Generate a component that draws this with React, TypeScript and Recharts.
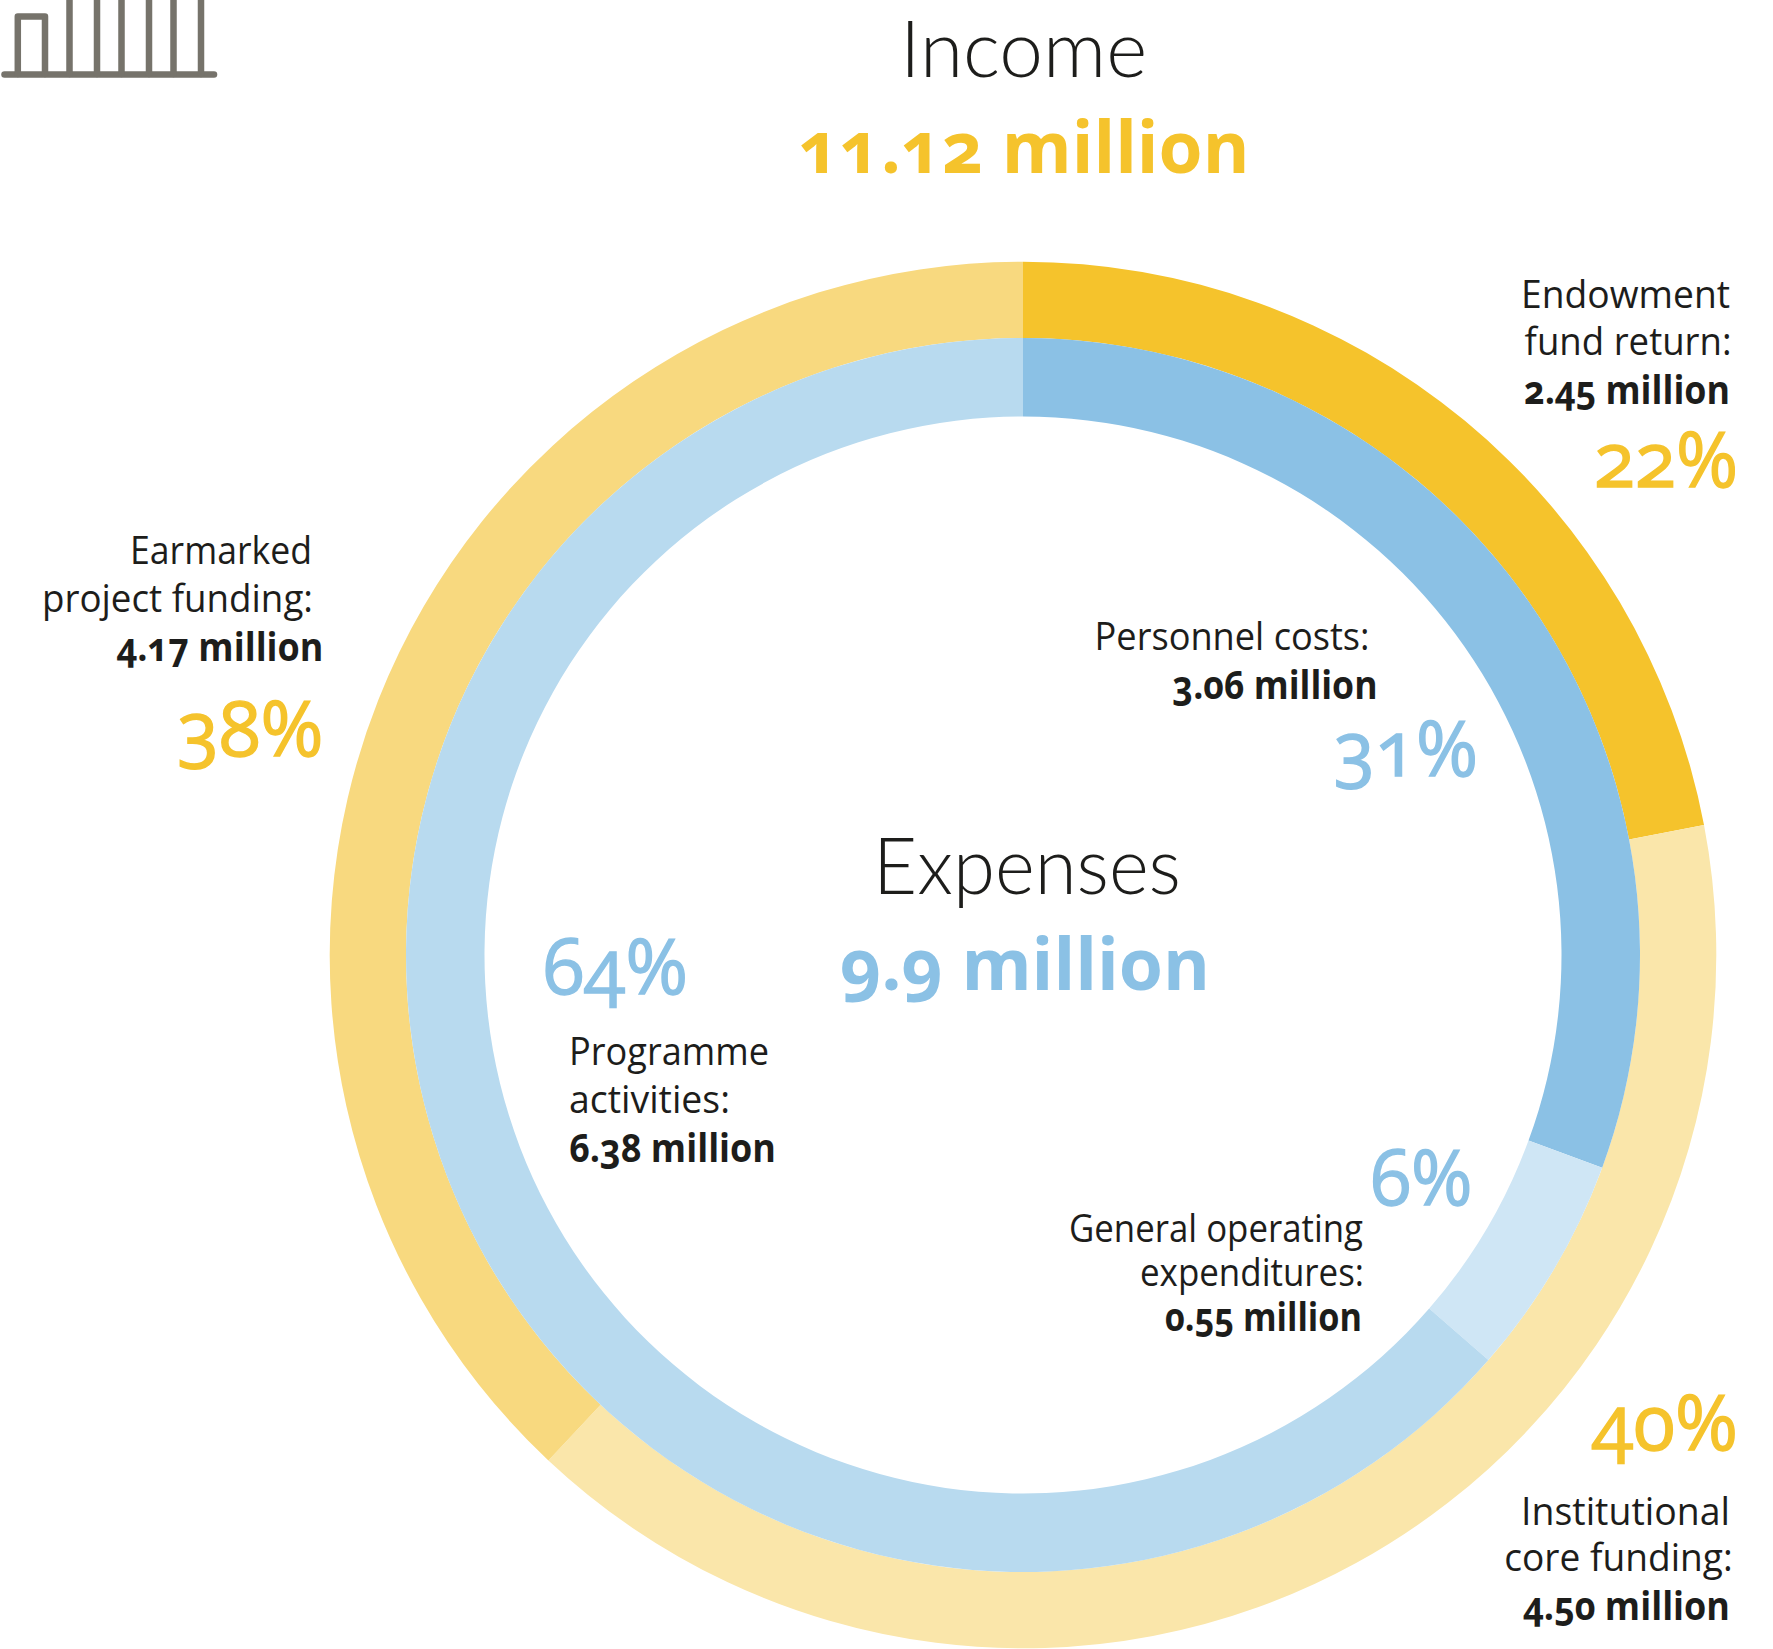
import { PieChart, Pie, Cell } from "recharts";

const incomeCategories = ["Endowment fund return", "Institutional core funding", "Earmarked project funding"];
const incomeShares = [22, 40, 38];
const expenseCategories = ["Personnel costs", "General operating expenditures", "Programme activities"];
// arc sizes (printed labels round to 31 / 6 / 64)
const expenseShares = [30.6, 5.8, 63.6];

const incomeColors = ["#f5c32c", "#fae6aa", "#f8d97f"];
const expenseColors = ["#8bc1e5", "#cfe6f5", "#b8daef"];

const incomeData = incomeCategories.map((name, i) => ({ name, value: incomeShares[i] }));
const expenseData = expenseCategories.map((name, i) => ({ name, value: expenseShares[i] }));

const FONT = "'Open Sans', sans-serif";
const DARK = "#1d1d1b";
const YELLOW = "#f5c32c";
const BLUE = "#8bc1e5";

type TxtProps = {
  x: number;
  y: number;
  w: number;
  size: number;
  weight: number;
  fill: string;
  anchor?: "start" | "middle" | "end";
  family?: string;
  thicken?: number;
  children: string;
};

function Txt({ x, y, w, size, weight, fill, anchor = "end", family = FONT, thicken = 0, children }: TxtProps) {
  return (
    <text
      x={x}
      y={y}
      textAnchor={anchor}
      textLength={w}
      lengthAdjust="spacingAndGlyphs"
      fontFamily={family}
      fontSize={size}
      fontWeight={weight}
      fill={fill}
      stroke={thicken ? fill : "none"}
      strokeWidth={thicken}
      style={{ fontVariantNumeric: "oldstyle-nums" }}
    >
      {children}
    </text>
  );
}

const Body = (p: { x: number; y: number; w: number; anchor?: "start" | "end"; children: string }) => (
  <Txt {...p} size={39} weight={400} fill={DARK} />
);
const Amount = (p: { x: number; y: number; w: number; anchor?: "start" | "end"; children: string }) => (
  <Txt {...p} size={39} weight={700} fill={DARK} />
);
const Pct = (p: { x: number; y: number; w: number; fill: string; anchor?: "start" | "end"; children: string }) => (
  <Txt {...p} size={76} weight={400} thicken={1.4} />
);
const Title = (p: { x: number; y: number; w: number; children: string }) => (
  <Txt {...p} size={78} weight={300} fill={DARK} anchor="middle" family="Lato, 'Open Sans', sans-serif" />
);

export default function App() {
  return (
    <div style={{ position: "absolute", left: 0, top: 0, width: 1773, height: 1649, background: "#fff" }}>
      <PieChart width={1773} height={1649} margin={{ top: 0, right: 0, bottom: 0, left: 0 }}>
        <Pie
          data={incomeData}
          dataKey="value"
          nameKey="name"
          cx={1023}
          cy={955}
          innerRadius={617}
          outerRadius={693.3}
          startAngle={90}
          endAngle={-270}
          stroke="none"
          isAnimationActive={false}
        >
          {incomeData.map((d, i) => (
            <Cell key={d.name} fill={incomeColors[i]} />
          ))}
        </Pie>
        <Pie
          data={expenseData}
          dataKey="value"
          nameKey="name"
          cx={1023}
          cy={955}
          innerRadius={538.5}
          outerRadius={617}
          startAngle={90}
          endAngle={-270}
          stroke="none"
          isAnimationActive={false}
        >
          {expenseData.map((d, i) => (
            <Cell key={d.name} fill={expenseColors[i]} />
          ))}
        </Pie>

        {/* building icon, cut off by the top edge */}
        <g stroke="#76736b" strokeWidth={6.5} fill="none" strokeLinecap="round" strokeLinejoin="round">
          <path d="M4.5 74.4H214" />
          <path d="M17.8 74V16.6H45V74" />
          <path d="M69.5 74V-5M97 74V-5M121.5 74V-5M149 74V-5M173.5 74V-5M201 74V-5" />
        </g>

        <Title x={1023.6} y={77} w={247}>Income</Title>
        <Txt x={1024} y={173} w={451} size={71} weight={700} fill={YELLOW} anchor="middle">11.12 million</Txt>

        <Body x={1730} y={308} w={209}>Endowment</Body>
        <Body x={1731.6} y={355} w={207}>fund return:</Body>
        <Amount x={1730} y={404} w={206}>2.45 million</Amount>
        <Pct x={1738} y={487} w={144} fill={YELLOW}>22%</Pct>

        <Body x={312} y={564} w={182}>Earmarked</Body>
        <Body x={313} y={612} w={271}>project funding:</Body>
        <Amount x={323.5} y={660.5} w={207}>4.17 million</Amount>
        <Pct x={323.5} y={756} w={146} fill={YELLOW}>38%</Pct>

        <Body x={1369.6} y={650} w={275}>Personnel costs:</Body>
        <Amount x={1377.6} y={699} w={205}>3.06 million</Amount>
        <Pct x={1478} y={776} w={144} fill={BLUE}>31%</Pct>

        <Title x={1027} y={893.5} w={308}>Expenses</Title>
        <Txt x={1025} y={990} w={370} size={71} weight={700} fill={BLUE} anchor="middle">9.9 million</Txt>

        <Pct x={543} y={994} w={145} fill={BLUE} anchor="start">64%</Pct>
        <Body x={569} y={1065} w={200} anchor="start">Programme</Body>
        <Body x={569} y={1113} w={161} anchor="start">activities:</Body>
        <Amount x={569} y={1161.5} w={207} anchor="start">6.38 million</Amount>

        <Pct x={1472.6} y={1205} w={102} fill={BLUE}>6%</Pct>
        <Body x={1363} y={1242} w={294}>General operating</Body>
        <Body x={1364} y={1286} w={224}>expenditures:</Body>
        <Amount x={1362} y={1331} w={197}>0.55 million</Amount>

        <Pct x={1738} y={1450} w={146} fill={YELLOW}>40%</Pct>
        <Body x={1730} y={1524.6} w={209}>Institutional</Body>
        <Body x={1732.7} y={1571} w={228.5}>core funding:</Body>
        <Amount x={1730} y={1619.6} w={207}>4.50 million</Amount>
      </PieChart>
    </div>
  );
}
